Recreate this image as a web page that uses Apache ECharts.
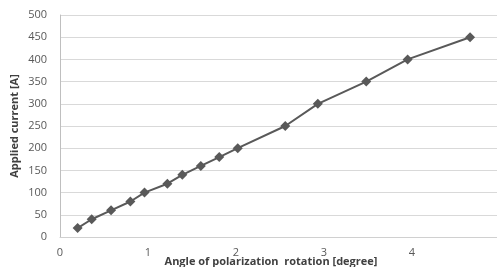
<!DOCTYPE html>
<html>
<head>
<meta charset="utf-8">
<script src="https://cdn.jsdelivr.net/npm/echarts@6/dist/echarts.min.js"></script>
<style>
  html, body { margin: 0; padding: 0; background: #fff; }
  #main { width: 497px; height: 267px; }
</style>
</head>
<body>
<div id="main"></div>
<script>
var angle = [0.2, 0.36, 0.58, 0.8, 0.96, 1.22, 1.39, 1.6, 1.81, 2.02, 2.56, 2.93, 3.48, 3.95, 4.66];
var current = [20, 40, 60, 80, 100, 120, 140, 160, 180, 200, 250, 300, 350, 400, 450];

var myChart = echarts.init(document.getElementById('main'));

var points = angle.map(function (a, i) { return [a, current[i]]; });

var option = {
    animation: false,
    grid: {
        left: 60,
        right: -3,
        top: 15,
        bottom: 30,
        containLabel: false,
        outerBoundsMode: 'none'
    },
    xAxis: {
        type: 'value',
        min: 0,
        max: 5,
        interval: 1,
        name: 'Angle of polarization  rotation [degree]',
        nameLocation: 'middle',
        nameGap: 19,
        nameMoveOverlap: false,
        nameTextStyle: {
            color: '#404040',
            fontWeight: 'bold',
            fontSize: 11,
            fontFamily: 'Open Sans',
            padding: [0, 18, 0, 0]
        },
        axisLine: { show: true, lineStyle: { color: '#d0d0d0' } },
        axisTick: { show: false },
        splitLine: { show: false },
        axisLabel: {
            color: '#595959',
            fontSize: 11,
            fontFamily: 'Open Sans',
            margin: 10
        }
    },
    yAxis: {
        type: 'value',
        min: 0,
        max: 500,
        interval: 50,
        name: 'Applied current [A]',
        nameLocation: 'middle',
        nameGap: 40,
        nameMoveOverlap: false,
        nameTextStyle: {
            color: '#404040',
            fontWeight: 'bold',
            fontSize: 11,
            fontFamily: 'Open Sans'
        },
        axisLine: { show: true, lineStyle: { color: '#bfbfbf' } },
        axisTick: { show: false },
        splitLine: { lineStyle: { color: '#d9d9d9', width: 1 } },
        axisLabel: {
            color: '#595959',
            fontSize: 11,
            fontFamily: 'Open Sans',
            margin: 13
        }
    },
    series: [{
        type: 'line',
        data: points,
        symbol: 'diamond',
        symbolSize: 10,
        itemStyle: { color: '#595959' },
        lineStyle: { color: '#595959', width: 2 }
    }]
};

myChart.setOption(option);
</script>
</body>
</html>
